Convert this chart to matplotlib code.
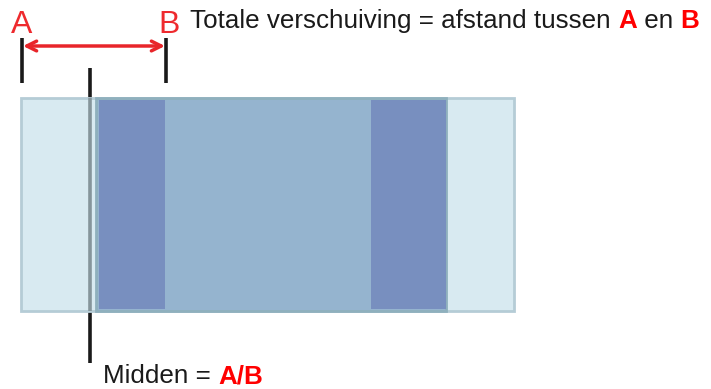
import matplotlib.pyplot as plt
from matplotlib.patches import Rectangle

plt.rcParams["font.family"] = ["Liberation Sans", "DejaVu Sans"]

# layout of the diagram, in pixel units (y grows downward)
outer_box = (21, 98, 493, 213)      # x, y, width, height
inner_box = (96, 98, 350, 213)
dark_strips = [(99, 100, 66, 209), (371, 100, 75, 209)]
marker_x = {"A": 22, "B": 166}
marker_y = (38, 83)
arrow_y = 46
middle_x = 90
middle_y = (68, 363)

RED = "#ee2a2e"
LIGHT = "#d8eaf1"
MEDIUM = "#95b4cf"
DARK = "#788fbf"

fig = plt.figure(figsize=(7.11, 3.89), dpi=100)
ax = fig.add_axes([0, 0, 1, 1])
ax.set_xlim(0, 711)
ax.set_ylim(389, 0)
ax.axis("off")

# middle line (behind the blocks)
ax.plot([middle_x, middle_x], middle_y, color="#1a1a1a", lw=2.6, zorder=1,
        solid_capstyle="butt")

x, y, w, h = outer_box
ax.add_patch(Rectangle((x, y), w, h, facecolor=LIGHT, edgecolor="#b5ccd6",
                       lw=2, zorder=2))
x, y, w, h = inner_box
ax.add_patch(Rectangle((x, y), w, h, facecolor=MEDIUM, edgecolor="#8fb0bd",
                       lw=2, zorder=3))
for x, y, w, h in dark_strips:
    ax.add_patch(Rectangle((x, y), w, h, facecolor=DARK, edgecolor="none",
                           zorder=4))
# the line shows through the pale block
ax.plot([middle_x, middle_x], [outer_box[1], outer_box[1] + outer_box[3]],
        color="#85959b", lw=2.6, zorder=5, solid_capstyle="butt")

# A and B markers
for name, mx in marker_x.items():
    ax.plot([mx, mx], marker_y, color="#1a1a1a", lw=2.6, zorder=5,
            solid_capstyle="butt")
    ax.text(mx + (0 if name == "A" else 3), 33, name, color=RED, fontsize=23,
            ha="center", va="baseline")

ax.annotate("", xy=(marker_x["A"] + 1, arrow_y), xytext=(marker_x["B"] - 1, arrow_y),
            arrowprops=dict(arrowstyle="<->,head_length=0.7,head_width=0.35",
                            color="#e8252a", lw=2.5, shrinkA=0, shrinkB=0))


def rich_text(x, y, parts, size):
    t = ax.text(x, y, parts[0][0], color=parts[0][1], fontsize=size,
                fontweight=parts[0][2], va="baseline")
    for s, c, wgt in parts[1:]:
        t = ax.annotate(s, xy=(1, 0), xycoords=t, va="bottom", color=c,
                        fontsize=size, fontweight=wgt)
    return t


rich_text(190, 28, [("Totale verschuiving = afstand tussen ", "#1a1a1a", "normal"),
                    ("A", "#ff0000", "bold"),
                    (" en ", "#1a1a1a", "normal"),
                    ("B", "#ff0000", "bold")], 18.7)
rich_text(103, 383, [("Midden = ", "#1a1a1a", "normal"),
                     ("A/B", "#ff0000", "bold")], 18.7)

fig.savefig("out.png", dpi=100)
